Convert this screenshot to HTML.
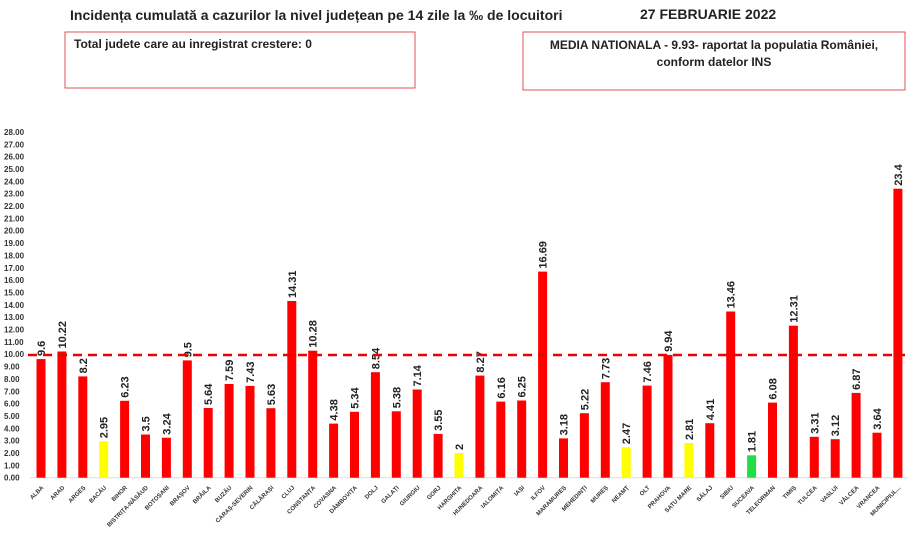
<!DOCTYPE html>
<html><head><meta charset="utf-8"><style>body{margin:0;background:#fff}svg{display:block}.v{font-size:11px;font-weight:bold;fill:#222}.l{font-size:6px;font-weight:bold;fill:#333;text-anchor:end}</style></head><body>
<svg width="913" height="535" xmlns="http://www.w3.org/2000/svg" font-family="Liberation Sans, sans-serif">
<rect width="913" height="535" fill="#fff"/>
<text x="70" y="20" font-size="14" font-weight="bold" fill="#222">Incidența cumulată a cazurilor la nivel județean pe 14 zile la ‰ de locuitori</text>
<text x="640" y="19" font-size="14" font-weight="bold" fill="#222">27 FEBRUARIE 2022</text>
<rect x="65" y="32" width="350" height="56" fill="none" stroke="#e05050"/>
<text x="74" y="48" font-size="12" font-weight="bold" fill="#222">Total judete care au inregistrat crestere: 0</text>
<rect x="523" y="32" width="382" height="58" fill="none" stroke="#e05050"/>
<text x="714" y="49" font-size="12" font-weight="bold" fill="#222" text-anchor="middle">MEDIA NATIONALA -  9.93-  raportat la populatia României,</text>
<text x="714" y="66" font-size="12" font-weight="bold" fill="#222" text-anchor="middle">conform datelor INS</text>
<g font-size="8" font-weight="bold" fill="#333">
<text x="4" y="480.7">0.00</text><text x="4" y="468.4">1.00</text><text x="4" y="456.0">2.00</text><text x="4" y="443.7">3.00</text><text x="4" y="431.3">4.00</text><text x="4" y="419.0">5.00</text><text x="4" y="406.6">6.00</text><text x="4" y="394.3">7.00</text><text x="4" y="381.9">8.00</text><text x="4" y="369.6">9.00</text><text x="4" y="357.2">10.00</text><text x="4" y="344.9">11.00</text><text x="4" y="332.5">12.00</text><text x="4" y="320.2">13.00</text><text x="4" y="307.8">14.00</text><text x="4" y="295.5">15.00</text><text x="4" y="283.1">16.00</text><text x="4" y="270.8">17.00</text><text x="4" y="258.4">18.00</text><text x="4" y="246.1">19.00</text><text x="4" y="233.7">20.00</text><text x="4" y="221.4">21.00</text><text x="4" y="209.0">22.00</text><text x="4" y="196.7">23.00</text><text x="4" y="184.3">24.00</text><text x="4" y="172.0">25.00</text><text x="4" y="159.6">26.00</text><text x="4" y="147.3">27.00</text><text x="4" y="134.9">28.00</text>
</g>
<line x1="30" y1="477.7" x2="908" y2="477.7" stroke="#ddd"/>
<g fill="#ff0000">
<rect x="36.5" y="359.1" width="9" height="118.6"/>
<rect x="57.4" y="351.5" width="9" height="126.2"/>
<rect x="78.3" y="376.4" width="9" height="101.3"/>
<rect x="99.2" y="441.3" width="9" height="36.4" fill="#ffff00"/>
<rect x="120.1" y="400.8" width="9" height="76.9"/>
<rect x="141.0" y="434.5" width="9" height="43.2"/>
<rect x="161.9" y="437.7" width="9" height="40.0"/>
<rect x="182.8" y="360.4" width="9" height="117.3"/>
<rect x="203.7" y="408.0" width="9" height="69.7"/>
<rect x="224.6" y="384.0" width="9" height="93.7"/>
<rect x="245.5" y="385.9" width="9" height="91.8"/>
<rect x="266.4" y="408.2" width="9" height="69.5"/>
<rect x="287.3" y="301.0" width="9" height="176.7"/>
<rect x="308.2" y="350.7" width="9" height="127.0"/>
<rect x="329.1" y="423.6" width="9" height="54.1"/>
<rect x="350.0" y="411.8" width="9" height="65.9"/>
<rect x="370.9" y="372.2" width="9" height="105.5"/>
<rect x="391.8" y="411.3" width="9" height="66.4"/>
<rect x="412.7" y="389.5" width="9" height="88.2"/>
<rect x="433.6" y="433.9" width="9" height="43.8"/>
<rect x="454.5" y="453.0" width="9" height="24.7" fill="#ffff00"/>
<rect x="475.4" y="375.6" width="9" height="102.1"/>
<rect x="496.3" y="401.6" width="9" height="76.1"/>
<rect x="517.2" y="400.5" width="9" height="77.2"/>
<rect x="538.1" y="271.6" width="9" height="206.1"/>
<rect x="559.0" y="438.4" width="9" height="39.3"/>
<rect x="579.9" y="413.2" width="9" height="64.5"/>
<rect x="600.8" y="382.2" width="9" height="95.5"/>
<rect x="621.7" y="447.2" width="9" height="30.5" fill="#ffff00"/>
<rect x="642.6" y="385.6" width="9" height="92.1"/>
<rect x="663.5" y="354.9" width="9" height="122.8"/>
<rect x="684.4" y="443.0" width="9" height="34.7" fill="#ffff00"/>
<rect x="705.3" y="423.2" width="9" height="54.5"/>
<rect x="726.2" y="311.5" width="9" height="166.2"/>
<rect x="747.1" y="455.3" width="9" height="22.4" fill="#22dd44"/>
<rect x="768.0" y="402.6" width="9" height="75.1"/>
<rect x="788.9" y="325.7" width="9" height="152.0"/>
<rect x="809.8" y="436.8" width="9" height="40.9"/>
<rect x="830.7" y="439.2" width="9" height="38.5"/>
<rect x="851.6" y="392.9" width="9" height="84.8"/>
<rect x="872.5" y="432.7" width="9" height="45.0"/>
<rect x="893.4" y="188.7" width="9" height="289.0"/>
</g>
<g class="vv">
<text class="v" transform="translate(45,356) rotate(-90)">9.6</text>
<text class="v" transform="translate(65.9,348.5) rotate(-90)">10.22</text>
<text class="v" transform="translate(86.8,373.4) rotate(-90)">8.2</text>
<text class="v" transform="translate(107.7,438.3) rotate(-90)">2.95</text>
<text class="v" transform="translate(128.6,397.8) rotate(-90)">6.23</text>
<text class="v" transform="translate(149.5,431.5) rotate(-90)">3.5</text>
<text class="v" transform="translate(170.4,434.7) rotate(-90)">3.24</text>
<text class="v" transform="translate(191.3,357.4) rotate(-90)">9.5</text>
<text class="v" transform="translate(212.2,405) rotate(-90)">5.64</text>
<text class="v" transform="translate(233.1,381) rotate(-90)">7.59</text>
<text class="v" transform="translate(254,382.9) rotate(-90)">7.43</text>
<text class="v" transform="translate(274.9,405.2) rotate(-90)">5.63</text>
<text class="v" transform="translate(295.8,298) rotate(-90)">14.31</text>
<text class="v" transform="translate(316.7,347.7) rotate(-90)">10.28</text>
<text class="v" transform="translate(337.6,420.6) rotate(-90)">4.38</text>
<text class="v" transform="translate(358.5,408.8) rotate(-90)">5.34</text>
<text class="v" transform="translate(379.4,369.2) rotate(-90)">8.54</text>
<text class="v" transform="translate(400.3,408.3) rotate(-90)">5.38</text>
<text class="v" transform="translate(421.2,386.5) rotate(-90)">7.14</text>
<text class="v" transform="translate(442.1,430.9) rotate(-90)">3.55</text>
<text class="v" transform="translate(463,450) rotate(-90)">2</text>
<text class="v" transform="translate(483.9,372.6) rotate(-90)">8.27</text>
<text class="v" transform="translate(504.8,398.6) rotate(-90)">6.16</text>
<text class="v" transform="translate(525.7,397.5) rotate(-90)">6.25</text>
<text class="v" transform="translate(546.6,268.6) rotate(-90)">16.69</text>
<text class="v" transform="translate(567.5,435.4) rotate(-90)">3.18</text>
<text class="v" transform="translate(588.4,410.2) rotate(-90)">5.22</text>
<text class="v" transform="translate(609.3,379.2) rotate(-90)">7.73</text>
<text class="v" transform="translate(630.2,444.2) rotate(-90)">2.47</text>
<text class="v" transform="translate(651.1,382.6) rotate(-90)">7.46</text>
<text class="v" transform="translate(672,351.9) rotate(-90)">9.94</text>
<text class="v" transform="translate(692.9,440) rotate(-90)">2.81</text>
<text class="v" transform="translate(713.8,420.2) rotate(-90)">4.41</text>
<text class="v" transform="translate(734.7,308.5) rotate(-90)">13.46</text>
<text class="v" transform="translate(755.6,452.3) rotate(-90)">1.81</text>
<text class="v" transform="translate(776.5,399.6) rotate(-90)">6.08</text>
<text class="v" transform="translate(797.4,322.7) rotate(-90)">12.31</text>
<text class="v" transform="translate(818.3,433.8) rotate(-90)">3.31</text>
<text class="v" transform="translate(839.2,436.2) rotate(-90)">3.12</text>
<text class="v" transform="translate(860.1,389.9) rotate(-90)">6.87</text>
<text class="v" transform="translate(881,429.7) rotate(-90)">3.64</text>
<text class="v" transform="translate(901.9,185.7) rotate(-90)">23.4</text>
</g>
<line x1="28" y1="355" x2="905" y2="355" stroke="#e00" stroke-width="2.5" stroke-dasharray="9,6"/>
<g>
<text class="l" transform="translate(44,488) rotate(-45)">ALBA</text>
<text class="l" transform="translate(64.9,488) rotate(-45)">ARAD</text>
<text class="l" transform="translate(85.8,488) rotate(-45)">ARGEȘ</text>
<text class="l" transform="translate(106.7,488) rotate(-45)">BACĂU</text>
<text class="l" transform="translate(127.6,488) rotate(-45)">BIHOR</text>
<text class="l" transform="translate(148.5,488) rotate(-45)">BISTRIȚA-NĂSĂUD</text>
<text class="l" transform="translate(169.4,488) rotate(-45)">BOTOȘANI</text>
<text class="l" transform="translate(190.3,488) rotate(-45)">BRAȘOV</text>
<text class="l" transform="translate(211.2,488) rotate(-45)">BRĂILA</text>
<text class="l" transform="translate(232.1,488) rotate(-45)">BUZĂU</text>
<text class="l" transform="translate(253,488) rotate(-45)">CARAȘ-SEVERIN</text>
<text class="l" transform="translate(273.9,488) rotate(-45)">CĂLĂRAȘI</text>
<text class="l" transform="translate(294.8,488) rotate(-45)">CLUJ</text>
<text class="l" transform="translate(315.7,488) rotate(-45)">CONSTANȚA</text>
<text class="l" transform="translate(336.6,488) rotate(-45)">COVASNA</text>
<text class="l" transform="translate(357.5,488) rotate(-45)">DÂMBOVIȚA</text>
<text class="l" transform="translate(378.4,488) rotate(-45)">DOLJ</text>
<text class="l" transform="translate(399.3,488) rotate(-45)">GALAȚI</text>
<text class="l" transform="translate(420.2,488) rotate(-45)">GIURGIU</text>
<text class="l" transform="translate(441.1,488) rotate(-45)">GORJ</text>
<text class="l" transform="translate(462,488) rotate(-45)">HARGHITA</text>
<text class="l" transform="translate(482.9,488) rotate(-45)">HUNEDOARA</text>
<text class="l" transform="translate(503.8,488) rotate(-45)">IALOMIȚA</text>
<text class="l" transform="translate(524.7,488) rotate(-45)">IAȘI</text>
<text class="l" transform="translate(545.6,488) rotate(-45)">ILFOV</text>
<text class="l" transform="translate(566.5,488) rotate(-45)">MARAMUREȘ</text>
<text class="l" transform="translate(587.4,488) rotate(-45)">MEHEDINȚI</text>
<text class="l" transform="translate(608.3,488) rotate(-45)">MUREȘ</text>
<text class="l" transform="translate(629.2,488) rotate(-45)">NEAMȚ</text>
<text class="l" transform="translate(650.1,488) rotate(-45)">OLT</text>
<text class="l" transform="translate(671,488) rotate(-45)">PRAHOVA</text>
<text class="l" transform="translate(691.9,488) rotate(-45)">SATU MARE</text>
<text class="l" transform="translate(712.8,488) rotate(-45)">SĂLAJ</text>
<text class="l" transform="translate(733.7,488) rotate(-45)">SIBIU</text>
<text class="l" transform="translate(754.6,488) rotate(-45)">SUCEAVA</text>
<text class="l" transform="translate(775.5,488) rotate(-45)">TELEORMAN</text>
<text class="l" transform="translate(796.4,488) rotate(-45)">TIMIȘ</text>
<text class="l" transform="translate(817.3,488) rotate(-45)">TULCEA</text>
<text class="l" transform="translate(838.2,488) rotate(-45)">VASLUI</text>
<text class="l" transform="translate(859.1,488) rotate(-45)">VÂLCEA</text>
<text class="l" transform="translate(880,488) rotate(-45)">VRANCEA</text>
<text class="l" transform="translate(900.9,488) rotate(-45)">MUNICIPIUL...</text>
</g>
</svg>
</body></html>
